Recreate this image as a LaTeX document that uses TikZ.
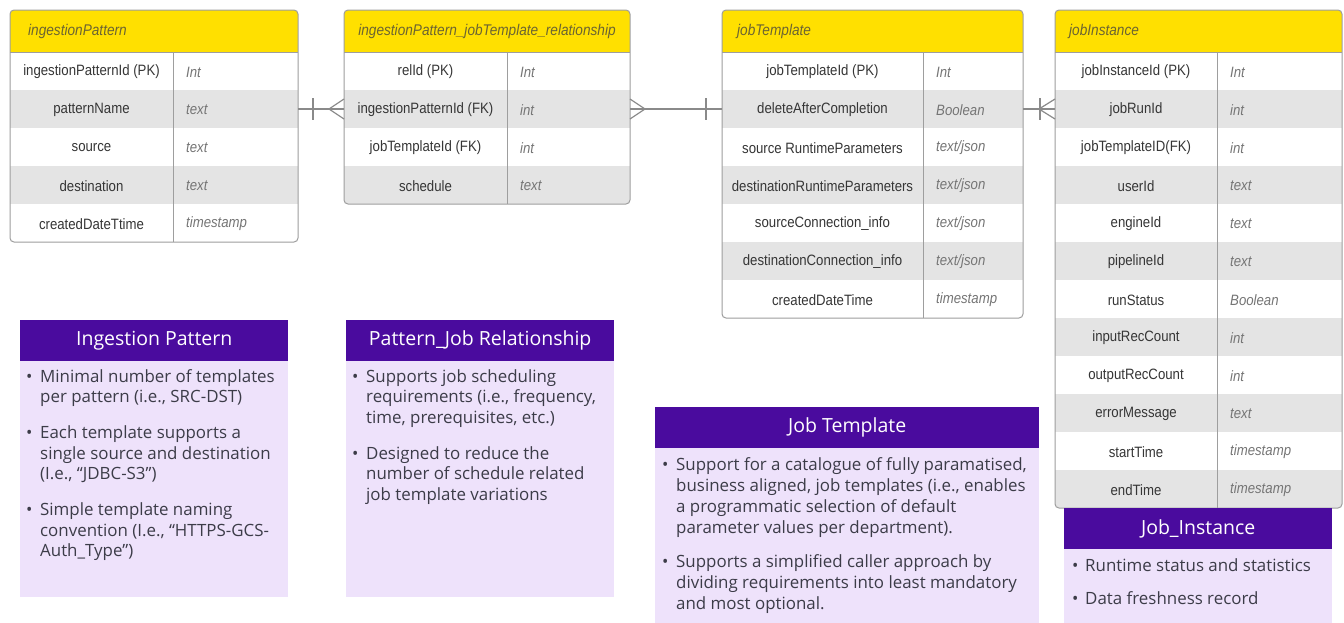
\documentclass[tikz,border=0pt]{standalone}
\usepackage{fontspec}
\setmainfont{Liberation Sans}
\newfontfamily\tabf[FakeStretch=0.88]{Liberation Sans}
\newfontfamily\boxf{Open Sans}
\usetikzlibrary{calc}
\definecolor{hdryellow}{HTML}{FFE000}
\definecolor{hdrtext}{HTML}{6B6432}
\definecolor{rowgray}{HTML}{E4E4E4}
\definecolor{tborder}{HTML}{9E9E9E}
\definecolor{keycol}{HTML}{363636}
\definecolor{typecol}{HTML}{757575}
\definecolor{conncol}{HTML}{8A8A8A}
\definecolor{purplehdr}{HTML}{4A0B9E}
\definecolor{lavender}{HTML}{EEE2FB}
\definecolor{bodytext}{HTML}{3C3C48}
\tikzset{
 hdrfill/.style={fill=hdryellow},
 rowfill/.style={fill=rowgray},
 tline/.style={draw=tborder, line width=1pt},
 keyt/.style={font=\tabf\fontsize{15}{18}\selectfont, text=keycol, inner sep=0pt},
 typet/.style={font=\tabf\itshape\fontsize{15}{18}\selectfont, text=typecol, anchor=west, inner sep=0pt},
 titlet/.style={font=\tabf\itshape\fontsize{15.5}{18}\selectfont, text=hdrtext, inner sep=0pt},
 conn/.style={draw=conncol, line width=1.2pt},
 phdr/.style={fill=purplehdr, text=white, font=\boxf\fontsize{19.5}{22}\selectfont, anchor=north west, inner sep=0pt},
 pbody/.style={fill=lavender, anchor=north west, inner sep=0pt},
 btext/.style={font=\boxf\fontsize{16.9}{20.7}\selectfont, text=bodytext, anchor=base west, inner sep=0pt},
}
% table frame: #1 name, #2 x0, #3 xdiv, #4 x1, #5 rows
\newcommand\ertab[5]{%
  \pgfmathsetmacro\tbot{52+38*#5}%
  \begin{scope}
    \clip[rounded corners=4pt] (#2,10) rectangle (#4,\tbot);
    \fill[hdrfill] (#2,10) rectangle (#4,52);
    \foreach \i in {2,4,...,#5} \fill[rowfill] (#2,{52+38*(\i-1)}) rectangle (#4,{52+38*\i});
  \end{scope}
  \draw[tline] (#2,52) -- (#4,52);
  \draw[tline] (#3,52) -- (#3,\tbot);
  \draw[tline, rounded corners=4pt] (#2,10) rectangle (#4,\tbot);
  \coordinate (#1-w) at (#2,109);
  \coordinate (#1-e) at (#4,109);
}
% row: #1 name, #2 i, #3 key centre x, #4 type x, #5 key, #6 type
\newcommand\erow[6]{%
  \node[keyt] (#1-k#2) at (#3,{34+38*#2}) {#5};
  \node[typet] (#1-t#2) at (#4,{34+38*#2}) {#6};
}
\newcommand\bitem[2]{\par\noindent\hangindent=#1\hangafter=1\makebox[#1][l]{\textbullet}#2}
\newenvironment{blist}[1]{\begin{minipage}[t]{#1}\raggedright\let\\\newline}{\end{minipage}}
\begin{document}
\begin{tikzpicture}[x=1pt,y=-1pt]
\useasboundingbox[fill=white] (0,0) rectangle (1344,622);

% ---- table 1
\ertab{t1}{10}{173}{298}{5}
\node[titlet, anchor=west] (t1-title) at (28,31) {ingestionPattern};
\erow{t1}{1}{91.5}{186}{ingestionPatternId (PK)}{Int}
\erow{t1}{2}{91.5}{186}{patternName}{text}
\erow{t1}{3}{91.5}{186}{source}{text}
\erow{t1}{4}{91.5}{186}{destination}{text}
\erow{t1}{5}{91.5}{186}{createdDateTtime}{timestamp}

% ---- table 2
\ertab{t2}{344}{507}{630}{4}
\node[titlet] (t2-title) at (487,31) {ingestionPattern\_jobTemplate\_relationship};
\erow{t2}{1}{425.5}{520}{relId (PK)}{Int}
\erow{t2}{2}{425.5}{520}{ingestionPatternId (FK)}{int}
\erow{t2}{3}{425.5}{520}{jobTemplateId (FK)}{int}
\erow{t2}{4}{425.5}{520}{schedule}{text}

% ---- table 3
\ertab{t3}{722}{923}{1023}{7}
\node[titlet, anchor=west] (t3-title) at (737,31) {jobTemplate};
\erow{t3}{1}{822.5}{936}{jobTemplateId (PK)}{Int}
\erow{t3}{2}{822.5}{936}{deleteAfterCompletion}{Boolean}
\erow{t3}{3}{822.5}{936}{source RuntimeParameters}{text/json}
\erow{t3}{4}{822.5}{936}{destinationRuntimeParameters}{text/json}
\erow{t3}{5}{822.5}{936}{sourceConnection\_info}{text/json}
\erow{t3}{6}{822.5}{936}{destinationConnection\_info}{text/json}
\erow{t3}{7}{822.5}{936}{createdDateTime}{timestamp}

% ---- table 4
\ertab{t4}{1055}{1217}{1342}{12}
\node[titlet, anchor=west] (t4-title) at (1069,31) {jobInstance};
\erow{t4}{1}{1136}{1230}{jobInstanceId (PK)}{Int}
\erow{t4}{2}{1136}{1230}{jobRunId}{int}
\erow{t4}{3}{1136}{1230}{jobTemplateID(FK)}{int}
\erow{t4}{4}{1136}{1230}{userId}{text}
\erow{t4}{5}{1136}{1230}{engineId}{text}
\erow{t4}{6}{1136}{1230}{pipelineId}{text}
\erow{t4}{7}{1136}{1230}{runStatus}{Boolean}
\erow{t4}{8}{1136}{1230}{inputRecCount}{int}
\erow{t4}{9}{1136}{1230}{outputRecCount}{int}
\erow{t4}{10}{1136}{1230}{errorMessage}{text}
\erow{t4}{11}{1136}{1230}{startTime}{timestamp}
\erow{t4}{12}{1136}{1230}{endTime}{timestamp}

% ---- connectors
\draw[conn] (t1-e) -- (t2-w);
\draw[conn] ($(t1-e)+(15,-11)$) -- ($(t1-e)+(15,11)$);
\draw[conn] ($(t2-w)+(0,-10)$) -- ($(t2-w)+(-15,0)$) -- ($(t2-w)+(0,10)$);

\draw[conn] (t2-e) -- (t3-w);
\draw[conn] ($(t2-e)+(0,-10)$) -- ($(t2-e)+(15,0)$) -- ($(t2-e)+(0,10)$);
\draw[conn] ($(t3-w)+(-16,-11)$) -- ($(t3-w)+(-16,11)$);

\draw[conn] (t3-e) -- (t4-w);
\draw[conn] ($(t3-e)+(17,-11)$) -- ($(t3-e)+(17,11)$);
\draw[conn] ($(t4-w)+(0,-10)$) -- ($(t4-w)+(-16,0)$) -- ($(t4-w)+(0,10)$);

% ---- purple boxes
\node[pbody, minimum width=268pt, minimum height=277pt] (b1b) at (20,320) {};
\node[phdr, minimum width=268pt, minimum height=41pt] (b1h) at (20,320) {Ingestion Pattern};
\node[btext] (b1t) at (26,382) {\begin{blist}{262pt}
\bitem{14pt}{Minimal number of templates\\per pattern (i.e., SRC-DST)}\par\vspace{15pt}
\bitem{14pt}{Each template supports a\\single source and destination\\(I.e., “JDBC-S3”)}\par\vspace{15pt}
\bitem{14pt}{Simple template naming\\convention (I.e., “HTTPS-GCS-\\Auth\_Type”)}
\end{blist}};

\node[pbody, minimum width=268pt, minimum height=277pt] (b2b) at (346,320) {};
\node[phdr, minimum width=268pt, minimum height=41pt] (b2h) at (346,320) {Pattern\_Job Relationship};
\node[btext] (b2t) at (352,382) {\begin{blist}{262pt}
\bitem{14pt}{Supports job scheduling\\requirements (i.e., frequency,\\time, prerequisites, etc.)}\par\vspace{15pt}
\bitem{14pt}{Designed to reduce the\\number of schedule related\\job template variations}
\end{blist}};

\node[pbody, minimum width=384pt, minimum height=220pt] (b3b) at (655,407) {};
\node[phdr, minimum width=384pt, minimum height=41pt] (b3h) at (655,407) {Job Template};
\node[btext, font=\boxf\fontsize{16.9}{21}\selectfont] (b3t) at (662,470) {\begin{blist}{378pt}
\bitem{14pt}{Support for a catalogue of fully paramatised,\\business aligned, job templates (i.e., enables\\a programmatic selection of default\\parameter values per department).}\par\vspace{13pt}
\bitem{14pt}{Supports a simplified caller approach by\\dividing requirements into least mandatory\\and most optional.}
\end{blist}};

\node[pbody, minimum width=268pt, minimum height=120pt] (b4b) at (1064,508) {};
\node[phdr, minimum width=268pt, minimum height=41pt] (b4h) at (1064,508) {Job\_Instance};
\node[btext] (b4t) at (1072,571) {\begin{blist}{262pt}
\bitem{13pt}{Runtime status and statistics}\par\vspace{13pt}
\bitem{13pt}{Data freshness record}
\end{blist}};
\end{tikzpicture}
\end{document}
